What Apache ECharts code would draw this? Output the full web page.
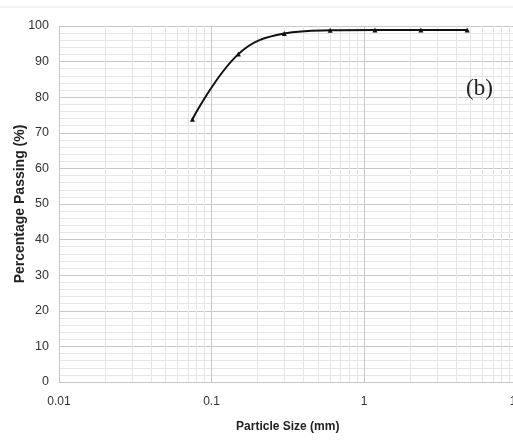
<!DOCTYPE html>
<html><head><meta charset="utf-8">
<script src="https://cdn.jsdelivr.net/npm/echarts@6/dist/echarts.min.js"></script>
<style>html,body{margin:0;padding:0;background:#fff}#c{width:513px;height:445px}</style>
</head><body><div id="c"></div>
<script>
const particleSize = [0.075, 0.15, 0.3, 0.6, 1.18, 2.36, 4.75];
const percentPassing = [73.8, 92.1, 97.9, 98.8, 98.9, 98.9, 98.9];
const minorXGrid = [0.02,0.03,0.04,0.05,0.06,0.07,0.08,0.09,0.2,0.3,0.4,0.5,0.6,0.7,0.8,0.9,2,3,4,5,6,7,8,9];
const majorXGrid = [0.1, 1];
const xLabels = ['0.01','0.1','1','10'];

const chart = echarts.init(document.getElementById('c'), null, {renderer:'canvas'});
const font = 'Liberation Sans, Arial, sans-serif';
chart.setOption({
  animation: false,
  backgroundColor: '#fff',
  title: {
    text: '(b)', left: 461, top: 72,
    textStyle: {fontFamily: 'Liberation Serif, Times New Roman, serif', fontSize: 23, fontWeight: 'normal', color: '#222'}
  },
  graphic: [{type:'line', shape:{x1:0,y1:7,x2:513,y2:7}, style:{stroke:'#e6e6e6', lineWidth:1}, silent:true}],
  grid: {left: 59, top: 26, width: 457.5, height: 356, containLabel: false, outerBoundsMode: 'none'},
  xAxis: {
    type: 'log', logBase: 10, min: 0.01, max: 10,
    name: 'Particle Size (mm)', nameLocation: 'middle', nameGap: 39,
    nameTextStyle: {fontFamily: font, fontSize: 12, fontWeight: 'bold', color: '#222'},
    axisLine: {show: true, lineStyle: {color: '#c8c8c8'}},
    axisTick: {show: false},
    axisLabel: {fontFamily: font, fontSize: 12, color: '#333', margin: 14, hideOverlap: false,
      formatter: function(v){ const s = xLabels.find(l => Math.abs(parseFloat(l)-v) < 1e-9*Math.max(1,v)); return s || ''; }},
    splitLine: {show: false}
  },
  yAxis: {
    type: 'value', min: 0, max: 100, interval: 10,
    name: 'Percentage Passing (%)', nameLocation: 'middle', nameGap: 32, nameMoveOverlap: false,
    nameTextStyle: {fontFamily: font, fontSize: 14, fontWeight: 'bold', color: '#222'},
    axisLine: {show: true, lineStyle: {color: '#c8c8c8'}},
    axisTick: {show: false},
    axisLabel: {fontFamily: font, fontSize: 12.5, color: '#333', margin: 10},
    splitLine: {show: true, lineStyle: {color: '#c8c8c8', width: 1}},
    minorTick: {show: false, splitNumber: 5},
    minorSplitLine: {show: true, lineStyle: {color: '#e6e6e6', width: 1}}
  },
  series: [
    {
      type: 'line', data: [], z: 1, silent: true,
      markLine: {
        silent: true, symbol: ['none','none'], label: {show: false}, animation: false,
        data: minorXGrid.map(v => ({xAxis: v, lineStyle: {color: '#e6e6e6', width: 1, type: 'solid'}}))
          .concat(majorXGrid.map(v => ({xAxis: v, lineStyle: {color: '#c8c8c8', width: 1, type: 'solid'}})))
      }
    },
    {
      type: 'line', z: 5,
      data: particleSize.map((x, i) => [x, percentPassing[i]]),
      smooth: 0.4,
      symbol: 'triangle', symbolSize: 5, showSymbol: true,
      itemStyle: {color: '#111'},
      lineStyle: {color: '#111', width: 2}
    }
  ]
});
</script></body></html>
